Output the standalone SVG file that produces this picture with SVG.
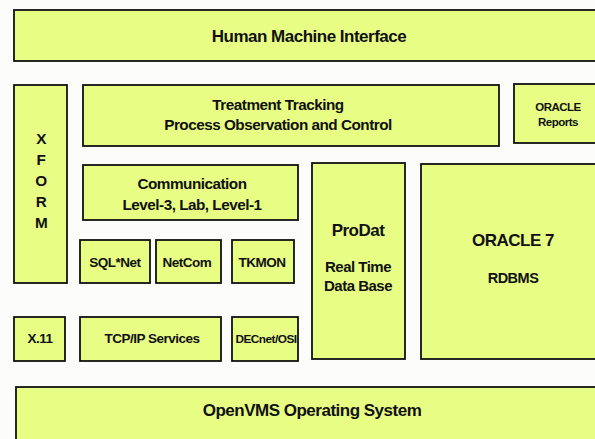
<svg xmlns="http://www.w3.org/2000/svg" width="595" height="439" viewBox="0 0 595 439">
<style>
rect{fill:#e8fd84;stroke:#111;stroke-width:1.8}
text{font-family:"Liberation Sans",Arial,sans-serif;font-weight:bold;text-anchor:middle;fill:#111;letter-spacing:-0.5px}
.l{font-size:17px}.m{font-size:15.3px}.s{font-size:13.5px}.xs{font-size:11.5px}
</style>
<rect x="0" y="0" width="595" height="439" style="fill:#fcfcfa;stroke:none"/>
<g id="hmi"><rect x="14" y="10" width="590" height="51"/><text class="l" x="309" y="42">Human Machine Interface</text></g>
<g id="xform"><rect x="14" y="85" width="53" height="198"/>
<text class="m" x="41" y="144">X</text><text class="m" x="41" y="165">F</text><text class="m" x="41" y="186">O</text><text class="m" x="41" y="207">R</text><text class="m" x="41" y="228">M</text></g>
<g id="treatment"><rect x="83" y="85" width="416" height="61"/><text class="m" x="278" y="110">Treatment Tracking</text><text class="m" x="278" y="130">Process Observation and Control</text></g>
<g id="oraclereports"><rect x="514" y="84" width="90" height="59"/><text class="xs" x="558" y="111">ORACLE</text><text class="xs" x="558" y="126">Reports</text></g>
<g id="communication"><rect x="83" y="165" width="215" height="55"/><text class="m" x="192" y="189">Communication</text><text class="m" x="192" y="210">Level-3, Lab, Level-1</text></g>
<g id="sqlnet"><rect x="80" y="240" width="70" height="43"/><text class="s" x="115" y="267">SQL*Net</text></g>
<g id="netcom"><rect x="156" y="240" width="65" height="43"/><text class="s" x="187" y="267">NetCom</text></g>
<g id="tkmon"><rect x="232" y="240" width="62" height="43"/><text class="s" x="262" y="267">TKMON</text></g>
<g id="prodat"><rect x="312" y="163" width="93" height="196"/><text class="l" x="358" y="236">ProDat</text><text style="font-size:15px" x="358" y="272">Real Time</text><text style="font-size:15px" x="358" y="291">Data Base</text></g>
<g id="oracle7"><rect x="421" y="164" width="183" height="195"/><text style="font-size:17px" x="513" y="246">ORACLE 7</text><text style="font-size:14.5px" x="513" y="283">RDBMS</text></g>
<g id="x11"><rect x="14" y="317" width="51" height="44"/><text class="s" x="40" y="343">X.11</text></g>
<g id="tcpip"><rect x="80" y="317" width="141" height="44"/><text class="s" x="152" y="343">TCP/IP Services</text></g>
<g id="decnet"><rect x="232" y="317" width="66" height="44"/><text x="266" y="343" style="font-size:11px" textLength="61" lengthAdjust="spacingAndGlyphs">DECnet/OSI</text></g>
<g id="openvms"><rect x="16" y="387" width="590" height="60"/><text class="l" x="312" y="416">OpenVMS Operating System</text></g>
<g id="connectors"></g>
</svg>
